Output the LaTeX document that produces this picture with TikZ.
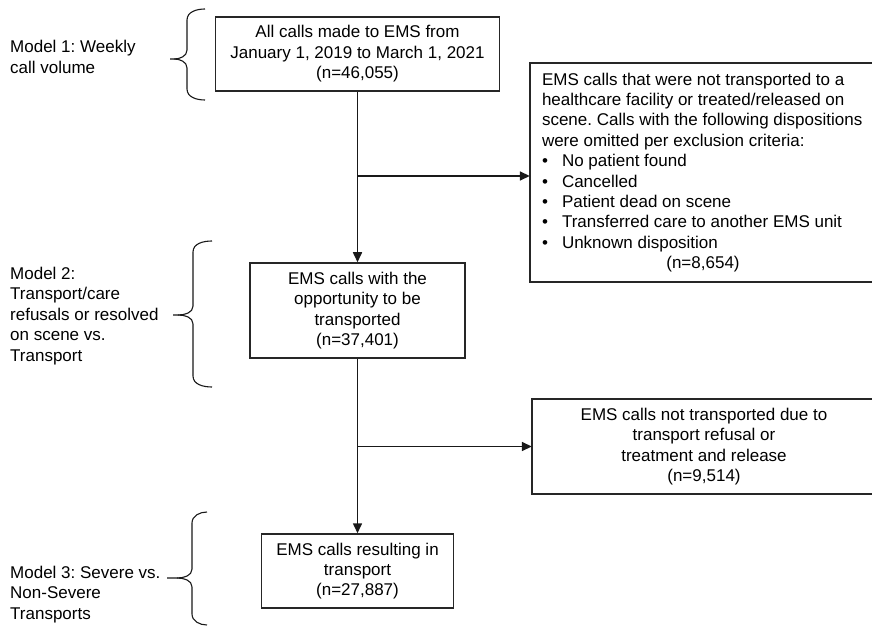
\documentclass[tikz,border=0pt]{standalone}
\usepackage{fontspec}
\setmainfont{Liberation Sans}
\usetikzlibrary{arrows.meta,calc}
\frenchspacing
\hyphenpenalty=10000
\exhyphenpenalty=10000
\begin{document}
\begin{tikzpicture}[x=1pt,y=-1pt,
  every node/.style={font=\fontsize{17}{20.4}\selectfont, inner sep=0pt},
  boxline/.style={draw=black!85, line width=1.5pt},
  box/.style={boxline, align=center},
  arr/.style={draw=black!90, line width=1.6pt, -{Triangle[length=10pt,width=9pt]}},
  brace/.style={draw=black!90, line width=1.1pt},
  lbl/.style={anchor=west, align=left}]
\useasboundingbox (0,0) rectangle (872,628);
\fill[white] (0,0) rectangle (872,628);

% boxes
\node[box, minimum width=284, minimum height=74] (b1) at (357.5,54)
  {All calls made to EMS from\\January 1, 2019 to March 1, 2021\\(n=46,055)};
\node[minimum width=346, minimum height=219, align=left] (b2) at (703,172.5)
  {EMS calls that were not transported to a\\
   healthcare facility or treated/released on\\
   scene. Calls with the following dispositions\\
   were omitted per exclusion criteria:\\
   \makebox[20pt][l]{\textbullet}No patient found\\
   \makebox[20pt][l]{\textbullet}Cancelled\\
   \makebox[20pt][l]{\textbullet}Patient dead on scene\\
   \makebox[20pt][l]{\textbullet}Transferred care to another EMS unit\\
   \makebox[20pt][l]{\textbullet}Unknown disposition\\
   \makebox[322pt][c]{(n=8,654)}};
\draw[boxline] ($(b2.north west)+(380,0)$) -- (b2.north west) -- (b2.south west) -- ++(380,0);
\node[box, minimum width=215, minimum height=95] (b3) at (357.5,310.5)
  {EMS calls with the\\opportunity to be\\transported\\(n=37,401)};
\node[minimum width=344, minimum height=95, align=center] (b4) at (704,446.5)
  {EMS calls not transported due to\\transport refusal or\\treatment and release\\(n=9,514)};
\draw[boxline] ($(b4.north west)+(380,0)$) -- (b4.north west) -- (b4.south west) -- ++(380,0);
\node[box, minimum width=192, minimum height=74] (b5) at (357.5,571)
  {EMS calls resulting in\\transport\\(n=27,887)};

% connectors
\coordinate (j1) at (357.5,176);
\coordinate (j2) at (357.5,446.5);
\draw[arr] (b1.south) -- (b3.north);
\draw[arr] (j1) -- (j1 -| b2.west);
\draw[arr] (b3.south) -- (b5.north);
\draw[arr] (j2) -- (b4.west);

% braces
\draw[brace] (205,9) to[out=180,in=90] (187,20) -- (187,50)
  to[out=-90,in=0] (174,59) -- (170,59);
\draw[brace] (174,59) to[out=0,in=90] (187,68) -- (187,89)
  to[out=-90,in=180] (205,100);

\draw[brace] (212,241) to[out=180,in=90] (193,252) -- (193,306)
  to[out=-90,in=0] (178,315) -- (173,315);
\draw[brace] (178,315) to[out=0,in=90] (193,324) -- (193,376)
  to[out=-90,in=180] (212,387);

\draw[brace] (207,512) to[out=180,in=90] (192,523) -- (192,569)
  to[out=-90,in=0] (177,578) -- (167,578);
\draw[brace] (177,578) to[out=0,in=90] (192,587) -- (192,614)
  to[out=-90,in=180] (207,625);

% labels
\node[lbl] (m1) at (10,57) {Model 1: Weekly\\call volume};
\node[lbl] (m2) at (10,316) {Model 2:\\Transport/care\\refusals or resolved\\on scene vs.\\Transport};
\node[lbl, anchor=north west] (m3) at (10,566) {Model 3: Severe vs.\\Non-Severe\\Transports};
\end{tikzpicture}
\end{document}
